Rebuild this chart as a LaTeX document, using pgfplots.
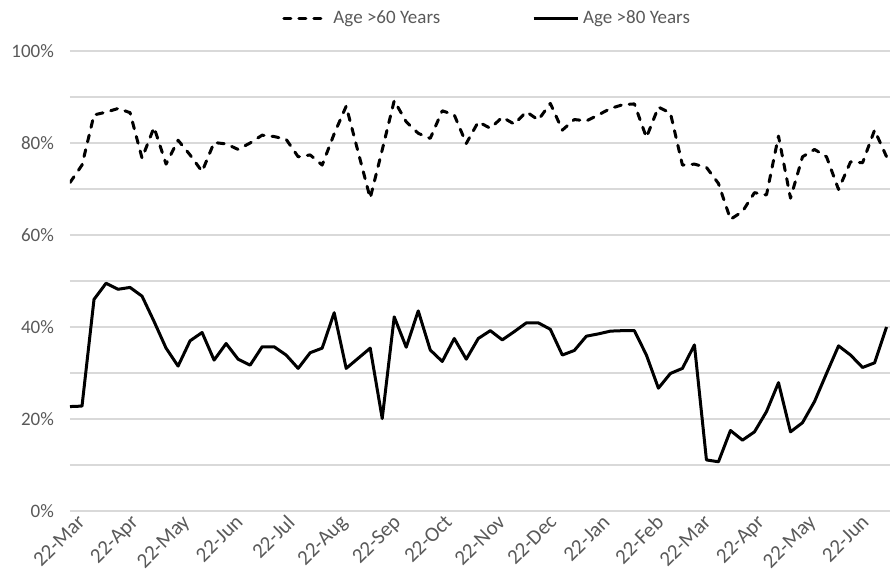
\documentclass[border=0pt]{standalone}
\usepackage{fontspec}
\setmainfont{Carlito}
\usepackage{pgfplots}
\pgfplotsset{compat=1.18}
\definecolor{gridc}{HTML}{D9D9D9}
\definecolor{txt}{HTML}{595959}
\pgfplotstableread{
d a60 a80
0 71.4 22.7
7 75.2 22.8
14 86.1 46.0
21 86.7 49.5
28 87.5 48.2
35 86.6 48.6
42 76.7 46.7
49 83.4 41.2
56 75.4 35.4
63 80.6 31.5
70 77.4 37.0
77 73.8 38.8
84 80.1 32.8
91 79.8 36.4
98 78.6 33.0
105 80.0 31.7
112 81.7 35.7
119 81.4 35.7
126 80.8 33.9
133 77.0 31.0
140 77.4 34.4
147 75.2 35.4
154 82.0 43.1
161 88.0 31.0
168 78.0 33.2
175 68.0 35.4
182 78.5 20.1
189 89.2 42.2
196 84.6 35.6
203 82.1 43.5
210 81.0 35.0
217 87.0 32.5
224 86.1 37.5
231 79.9 33.0
238 84.6 37.5
245 83.2 39.2
252 85.6 37.2
259 84.1 39.0
266 86.8 40.9
273 85.0 40.9
280 88.6 39.5
287 82.8 33.9
294 85.1 34.9
301 84.8 38.0
308 86.1 38.5
315 87.5 39.1
322 88.3 39.2
329 88.5 39.2
336 81.2 33.9
343 87.8 26.7
350 86.5 29.9
357 75.2 31.0
364 75.4 36.1
371 74.7 11.1
378 71.2 10.7
385 63.4 17.5
392 65.1 15.4
399 69.2 17.2
406 68.7 21.6
413 81.5 27.9
420 68.0 17.2
427 77.0 19.2
434 78.6 23.8
441 77.0 29.9
448 69.9 35.9
455 75.9 33.9
462 75.7 31.2
469 82.8 32.2
476 77.0 40.0
}\datatable
\begin{document}
\begin{tikzpicture}
\path[use as bounding box] (-35pt,-32.5pt) rectangle (410pt,255.5pt);
\begin{axis}[
  scale only axis, width=410pt, height=230pt,
  at={(0,0)}, anchor=south west,
  xmin=0, xmax=478, ymin=0, ymax=100,
  axis line style={draw=none},
  major tick style={draw=none}, minor tick style={draw=none},
  ytick={0,20,40,60,80,100},
  yticklabels={0\%,20\%,40\%,60\%,80\%,100\%},
  minor ytick={10,30,50,70,90},
  ymajorgrids, yminorgrids,
  grid style={gridc, line width=0.8pt},
  minor grid style={gridc, line width=0.8pt},
  yticklabel style={font=\fontsize{9.5}{11}\selectfont, text=txt, xshift=-4.5pt},
  xtick={0,31,61,92,122,153,184,214,245,275,306,337,365,396,426,457},
  xticklabels={22-Mar,22-Apr,22-May,22-Jun,22-Jul,22-Aug,22-Sep,22-Oct,22-Nov,22-Dec,22-Jan,22-Feb,22-Mar,22-Apr,22-May,22-Jun},
  xticklabel style={font=\fontsize{10.5}{12}\selectfont, text=txt, rotate=45, anchor=north east, inner sep=1pt, xshift=2.5pt, yshift=-2pt},
  legend style={at={(0.51,1.0696)}, anchor=center, draw=none, fill=none,
    font=\fontsize{9.5}{11}\selectfont, text=txt,
    legend columns=2,
    /tikz/every even column/.append style={column sep=44pt}},
  legend image code/.code={\draw[#1] (0pt,0pt) -- (22pt,0pt);},
]
\addplot[black, line width=1.5pt, line cap=round, line join=round, dash pattern=on 3.5pt off 4pt] table[x=d, y=a60] {\datatable};
\addlegendentry{Age >60 Years}
\addplot[black, line width=1.5pt, line join=round] table[x=d, y=a80] {\datatable};
\addlegendentry{Age >80 Years}
\end{axis}
\end{tikzpicture}
\end{document}
